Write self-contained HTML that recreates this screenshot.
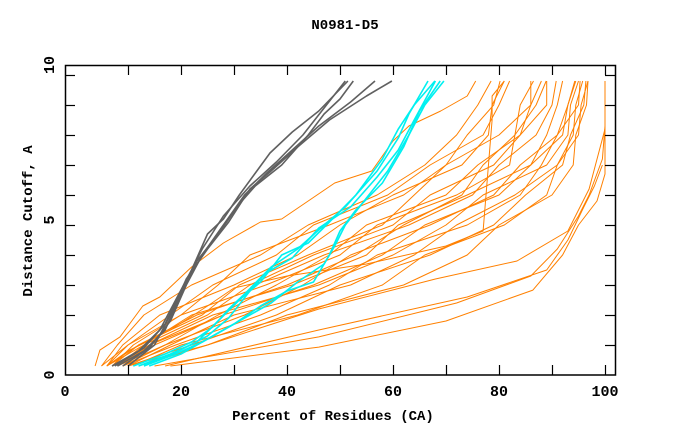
<!DOCTYPE html>
<html><head><meta charset="utf-8"><style>
html,body{margin:0;padding:0;background:#fff;}
svg{display:block;}
text{font-family:"Liberation Mono",monospace;font-weight:bold;fill:#000;}
</style></head><body>
<svg id="chart" width="680" height="440" viewBox="0 0 680 440" xmlns="http://www.w3.org/2000/svg">
<rect x="0" y="0" width="680" height="440" fill="#fff"/>
<text x="345" y="29" text-anchor="middle" font-size="14">N0981-D5</text>
<text x="333" y="420" text-anchor="middle" font-size="14">Percent of Residues (CA)</text>
<text transform="translate(32,221) rotate(-90)" text-anchor="middle" font-size="14">Distance Cutoff, A</text>
<g id="series"></g>
<g id="axes"></g>
</svg>
<script>
const xTicks = [0, 10, 20, 30, 40, 50, 60, 70, 80, 90, 100];
const xTickLabels = ["0", "20", "40", "60", "80", "100"];
const xLabelValues = [0, 20, 40, 60, 80, 100];
const yTicks = [0, 1, 2, 3, 4, 5, 6, 7, 8, 9, 10];
const yTickLabels = ["0", "5", "10"];
const yLabelValues = [0, 5, 10];
const levels = [0.3, 1, 2, 3, 4, 5, 6, 7, 8, 9, 9.8];

const grayLines = [
 [[7,0.3],[12,0.8],[16,1.5],[19,2.5],[22,3.5],[25,4.7],[28,5.2],[31,6.0],[36.8,7.4],[41,8.1],[46,8.8],[51.5,9.8]],
 [[8,0.3],[13,0.8],[17,1.5],[20,2.7],[23,3.8],[27,4.7],[31,5.7],[34,6.3],[39,7.0],[44,8.0],[47,8.7],[50,9.2],[52.5,9.8]],
 [[9,0.3],[14,0.9],[18,1.8],[21,3.0],[24,4.0],[28,5.0],[32,6.0],[36,6.7],[41,7.5],[46,8.3],[52,9.1],[56.6,9.8]],
 [[10,0.3],[15,1.0],[18,2.0],[21,3.2],[25,4.2],[29,5.1],[33,6.2],[37,6.8],[42,7.6],[48,8.5],[55,9.3],[59.8,9.8]],
 [[7.5,0.3],[13,0.9],[17,1.7],[20,2.8],[24,4.2],[28,5.3],[33,6.3],[38,7.1],[43,8.0],[47,8.9],[51,9.8]]
];
const cyanLines = [
 [[11,0.3],[17,0.7],[22,1.1],[26,1.6],[29,2.2],[32,2.7],[37,3.6],[42,4.2],[47,5.0],[51,5.6],[57,6.8],[61,7.9],[63,8.7],[66.6,9.8]],
 [[12,0.3],[18,0.7],[23,1.1],[27,1.8],[31,2.5],[35,3.1],[39,4.0],[44,4.4],[48,5.1],[53,6.0],[58,7.2],[61,8.2],[64,9.0],[67.9,9.8]],
 [[13,0.3],[19,0.7],[24,1.1],[30,1.7],[35,2.3],[40,2.8],[45,3.1],[48,4.0],[50,4.8],[53,5.5],[58,6.4],[62,7.6],[65,8.8],[68.9,9.8]],
 [[14,0.3],[20,0.7],[25,1.2],[31,1.8],[37,2.4],[42,3.1],[47,3.7],[49,4.3],[51,5.0],[55,5.9],[59,6.8],[63,8.0],[66,9.0],[69.6,9.8]],
 [[13,0.35],[19,0.75],[25,1.3],[29,1.9],[33,2.8],[36,3.4],[41,3.9],[46,4.9],[52,5.6],[57,6.6],[61,7.5],[64,8.5],[68,9.8]]
];
const orangeCustom = [
 [[3.8,0.3],[4.7,0.83],[8.5,1.27],[12.8,2.3],[16,2.6],[22,3.6],[28,4.4],[35,5.1],[39,5.2],[44,5.8],[49,6.4],[56,6.8],[60,7.8],[63,8.3],[69,8.8],[74,9.3],[75.6,9.8]],
 [[18,0.3],[46,0.93],[70,1.8],[86.4,2.83],[92,4.0],[95,5.0],[98.5,5.8],[100,6.7],[100,9.8]],
 [[15,0.3],[46,1.27],[72,2.4],[86,3.3],[91,4.2],[95,5.3],[97,6.0],[99.5,7.2],[100,8.3]],
 [[17,0.3],[46,1.5],[74,2.6],[89,3.5],[93,4.5],[96,5.6],[98,6.3],[99.5,7.0]],
 [[10,0.3],[25,1.0],[46,2.2],[68,3.2],[83.4,3.8],[93,4.8],[97,6.2],[100,8.2]],
 [[6,0.3],[10,0.8],[18,1.5],[25,2.3],[30,2.9],[40,3.3],[55,3.7],[70,4.3],[77,4.8],[78.7,8.5],[78.7,9.3],[81,9.8]]
];
const orangeX = [
 [5,8,13,22,35,44,57,66,72,76,78.5],
 [5,10,20,27,33,48,62,70,74,79,80.2],
 [6,9,16,30,42,50,60,73,78,78.7,81],
 [6,12,24,31,44,58,64,70,80,86,86],
 [7,11,20,36,50,57,72,82,83,87,88.9],
 [7,15,28,34,47,63,75,80,87,90,90.8],
 [8,13,22,41,55,61,74,86,89,91,92],
 [8,17,32,43,52,67,79,84,91,93,94.3],
 [9,14,26,46,60,70,77,89,93,93.5,95],
 [9,19,35,48,57,74,84,88,91,95,95.3],
 [10,18,30,52,64,72,83,91,94,94.5,95.8],
 [10,22,38,50,67,79,85,92,93.5,96,96.4],
 [11,20,42,58,66,81,89,91,95,95.5,96.8],
 [12,25,40,62,74,80,90,94,94.5,96.5,96.8],
 [8,14,28,45,58,66,80,86,92,93,94.5],
 [6,13,25,33,45,60,67,79,84,89,89],
 [7,12,23,40,53,62,73,77,83,84,86.5],
 [6,10,18,26,38,45,59,67,77,80,82],
 [9,17,27,38,48,55,70,76,84,86,88]
];

const X0 = 75, XS = 5.3, Y0 = 375, YS = 30;
function xScale(v){ return X0 + v*XS; }
function yScale(v){ return Y0 - v*YS; }
const NS = "http://www.w3.org/2000/svg";
const series = document.getElementById('series');
const axes = document.getElementById('axes');

function drawLine(pts, color, width, name){
  const p = document.createElementNS(NS, 'polyline');
  p.setAttribute('points', pts.map(q => xScale(q[0]).toFixed(1)+','+yScale(q[1]).toFixed(1)).join(' '));
  p.setAttribute('fill', 'none');
  p.setAttribute('stroke', color);
  p.setAttribute('stroke-width', width);
  p.setAttribute('stroke-linejoin', 'round');
  
  
  series.appendChild(p);
}
orangeX.forEach((xs, i) => {
  drawLine(xs.map((x, k) => [x, levels[k]]), '#ff8000', 1, 'orange-line-' + (i + 1));
});
orangeCustom.forEach((pts, i) => drawLine(pts, '#ff8000', 1, 'orange-line-extra-' + (i + 1)));
cyanLines.forEach((pts, i) => drawLine(pts, '#00f0f0', 1.6, 'cyan-line-' + (i + 1)));
grayLines.forEach((pts, i) => drawLine(pts, '#606060', 1.6, 'gray-line-' + (i + 1)));

const frame = document.createElementNS(NS, 'rect');
frame.setAttribute('x', 65.5); frame.setAttribute('y', 65.5);
frame.setAttribute('width', 550); frame.setAttribute('height', 309.5);
frame.setAttribute('fill', 'none'); frame.setAttribute('stroke', '#000'); frame.setAttribute('stroke-width', 1.5);


axes.appendChild(frame);

function seg(x1, y1, x2, y2, name){
  const l = document.createElementNS(NS, 'line');
  l.setAttribute('x1', x1); l.setAttribute('y1', y1); l.setAttribute('x2', x2); l.setAttribute('y2', y2);
  l.setAttribute('stroke', '#000'); l.setAttribute('stroke-width', 1.2);
  
  
  axes.appendChild(l);
}
xTicks.forEach(v => {
  if (v === 0) return;
  const x = Math.round(xScale(v)) + 0.5;
  seg(x, 375, x, 365, 'x-tick-' + v);
  seg(x, 65, x, 75, 'x-tick-top-' + v);
});
yTicks.forEach(v => {
  if (v === 0) return;
  const y = Math.round(yScale(v)) + 0.5;
  seg(65, y, 75, y, 'y-tick-' + v);
  seg(615, y, 605, y, 'y-tick-right-' + v);
});
function txt(s, x, y, rot, name){
  const t = document.createElementNS(NS, 'text');
  t.textContent = s;
  t.setAttribute('font-size', 15);
  t.setAttribute('text-anchor', 'middle');
  if (rot) t.setAttribute('transform', 'translate(' + x + ',' + y + ') rotate(-90)');
  else { t.setAttribute('x', x); t.setAttribute('y', y); }
  
  
  axes.appendChild(t);
}
xLabelValues.forEach((v, i) => {
  const x = v === 0 ? 65 : xScale(v);
  txt(xTickLabels[i], x, 396, false, 'x-tick-label-' + v);
});
yLabelValues.forEach((v, i) => {
  const y = yScale(v) - v;
  txt(yTickLabels[i], 54, y, true, 'y-tick-label-' + v);
});
</script>
</body></html>
